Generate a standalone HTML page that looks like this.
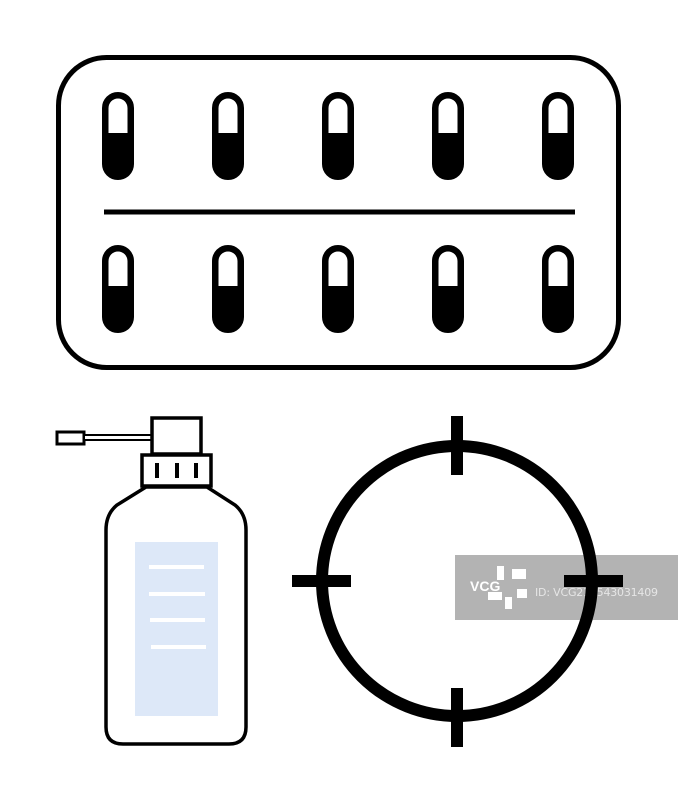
<!DOCTYPE html>
<html><head><style>html,body{margin:0;padding:0;background:#fff}</style></head>
<body>
<svg width="678" height="800" viewBox="0 0 678 800" xmlns="http://www.w3.org/2000/svg">
<rect width="678" height="800" fill="#fff"/>
<rect x="58.5" y="57.5" width="560" height="310" rx="48" fill="none" stroke="#000" stroke-width="5"/>
<line x1="104" y1="212" x2="575" y2="212" stroke="#000" stroke-width="5"/>
<g id="pill">
<rect x="104.5" y="94.5" width="27" height="83" rx="13.5" fill="#000" stroke="#000" stroke-width="5"/>
<path d="M108.5 133 V108 A9.5 9.5 0 0 1 127.5 108 V133 Z" fill="#fff"/>
</g>
<use href="#pill" x="110"/><use href="#pill" x="220"/><use href="#pill" x="330"/><use href="#pill" x="440"/>
<use href="#pill" y="153"/><use href="#pill" x="110" y="153"/><use href="#pill" x="220" y="153"/><use href="#pill" x="330" y="153"/><use href="#pill" x="440" y="153"/>
<!-- bottle -->
<rect x="57" y="432" width="27" height="12" fill="#fff" stroke="#000" stroke-width="3"/>
<rect x="84" y="435" width="68" height="5" fill="#fff" stroke="#000" stroke-width="2"/>
<rect x="152" y="418" width="49" height="36" fill="#fff" stroke="#000" stroke-width="3.5"/>
<rect x="142" y="455" width="69" height="31" fill="#fff" stroke="#000" stroke-width="3.5"/>
<rect x="155" y="463" width="4" height="15" fill="#000"/>
<rect x="175" y="463" width="4" height="15" fill="#000"/>
<rect x="194" y="463" width="4" height="15" fill="#000"/>
<path d="M146 487 L117 505 Q106 514 106 530 V727 Q106 744 123 744 H229 Q246 744 246 727 V530 Q246 514 235 505 L207 487 Z" fill="#fff" stroke="#000" stroke-width="3.5"/>
<rect x="135" y="542" width="83" height="174" fill="#dde8f8"/>
<g stroke="#fff" stroke-width="4"><line x1="149" y1="567" x2="204" y2="567"/><line x1="149" y1="594" x2="205" y2="594"/><line x1="150" y1="620" x2="205" y2="620"/><line x1="151" y1="647" x2="206" y2="647"/></g>
<!-- watermark -->
<rect x="455" y="555" width="223" height="65" fill="#b3b3b3"/>
<text x="470" y="591" font-family="Liberation Sans, sans-serif" font-weight="bold" font-size="14" fill="#fff">VCG</text>
<g fill="#fff"><rect x="497" y="566" width="7" height="14"/><rect x="512" y="569" width="14" height="10"/><rect x="488" y="592" width="14" height="8"/><rect x="505" y="597" width="7" height="12"/><rect x="517" y="589" width="10" height="9"/></g>
<text x="535" y="596" font-family="DejaVu Sans, sans-serif" font-size="11" textLength="123" fill="#e6e6e6">ID: VCG211543031409</text>
<!-- target -->
<circle cx="457" cy="581" r="135" fill="none" stroke="#000" stroke-width="12"/>
<rect x="451" y="416" width="12" height="59" fill="#000"/>
<rect x="451" y="688" width="12" height="59" fill="#000"/>
<rect x="292" y="575" width="59" height="12" fill="#000"/>
<rect x="564" y="575" width="59" height="12" fill="#000"/>
</svg>
</body></html>
